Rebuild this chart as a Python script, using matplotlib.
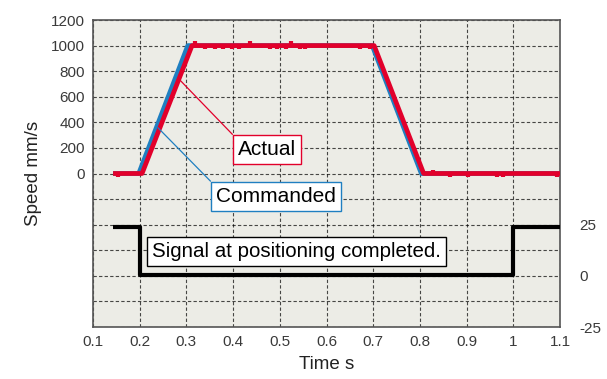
import matplotlib
matplotlib.use("Agg")
import matplotlib.pyplot as plt

plt.rcParams['font.family'] = ['Liberation Sans', 'DejaVu Sans']
plt.rcParams['axes.unicode_minus'] = False

# commanded speed profile (mm/s)
cmd_t = [0.143, 0.198, 0.303, 0.698, 0.803, 1.100]
cmd_v = [0, 0, 1000, 1000, 0, 0]

# actual speed profile (mm/s)
act_t = [0.143, 0.205, 0.312, 0.702, 0.808, 1.100]
act_v = [0, 0, 1000, 1000, 0, 0]
# small deviations seen on the actual trace
blip_t = [0.154, 0.318, 0.340, 0.361, 0.378, 0.398, 0.413, 0.436, 0.479, 0.494,
          0.513, 0.524, 0.543, 0.554, 0.672, 0.693,
          0.828, 0.864, 0.903, 0.965, 0.978, 1.094]
blip_base = [0, 1000, 1000, 1000, 1000, 1000, 1000, 1000, 1000, 1000,
             1000, 1000, 1000, 1000, 1000, 1000,
             0, 0, 0, 0, 0, 0]
blip_v = [-30, 1035, 970, 975, 970, 975, 970, 1035, 970, 975,
          970, 1035, 970, 975, 970, 975,
          25, -25, -25, -25, -25, -25]

# positioning completed signal (right axis)
sig_t = [0.143, 0.200, 0.200, 1.000, 1.000, 1.100]
sig_v = [24, 24, 0.5, 0.5, 24, 24]

xticks = [0.1, 0.2, 0.3, 0.4, 0.5, 0.6, 0.7, 0.8, 0.9, 1.0, 1.1]
xlabels = ['0.1', '0.2', '0.3', '0.4', '0.5', '0.6', '0.7', '0.8', '0.9', '1', '1.1']
yticks = list(range(-1200, 1201, 200))
rticks = [-25, 0, 25]

red = '#e2002b'
blue = '#1f7fc1'
txt = '#3a3a3a'

fig = plt.figure(figsize=(6.07, 3.79), dpi=100)
ax = fig.add_axes([0.1532, 0.1372, 0.7694, 0.81])
ax.set_facecolor('#ecece6')

ax.plot(cmd_t, cmd_v, color=blue, lw=3.4, solid_capstyle='butt', zorder=3)
ax.plot(act_t, act_v, color=red, lw=3.4, solid_capstyle='butt', zorder=4)
ax.vlines(blip_t, blip_base, blip_v, color=red, lw=3, zorder=4)

ax.set_xlim(0.1, 1.1)
ax.set_ylim(-1200, 1200)
ax.set_xticks(xticks)
ax.set_xticklabels(xlabels)
ax.set_yticks(yticks)
ax.set_yticklabels([str(v) if v >= 0 else '' for v in yticks])
ax.grid(True, color='black', ls=(0, (3, 2)), lw=0.8, alpha=0.7)
ax.set_axisbelow(True)
ax.tick_params(length=0, labelsize=11, colors=txt, pad=6)
for s in ax.spines.values():
    s.set_color('#555555')
    s.set_linewidth(1.2)

ax.set_ylabel('Speed mm/s', fontsize=13.5, color='#222222', labelpad=6)
ax.set_xlabel('Time s', fontsize=13.5, color='#222222', labelpad=5)

ax2 = ax.twinx()
ax2.plot(sig_t, sig_v, color='black', lw=3, solid_capstyle='butt', zorder=3)
ax2.set_ylim(-25, 125)
ax2.set_yticks(rticks)
ax2.tick_params(length=0, labelsize=11, colors=txt, pad=14)
for s in ax2.spines.values():
    s.set_visible(False)

ax.annotate('Actual', xy=(0.286, 731), xytext=(0.4726, 187),
            fontsize=15, color='black', ha='center', va='center', zorder=6,
            bbox=dict(boxstyle='square,pad=0.25', fc='white', ec=red, lw=1),
            arrowprops=dict(arrowstyle='-', color=red, lw=0.9, relpos=(0, 1),
                            shrinkA=0, shrinkB=0))
ax.annotate('Commanded', xy=(0.239, 358), xytext=(0.492, -179),
            fontsize=15, color='black', ha='center', va='center', zorder=6,
            bbox=dict(boxstyle='square,pad=0.25', fc='white', ec=blue, lw=1),
            arrowprops=dict(arrowstyle='-', color=blue, lw=0.9, relpos=(0, 1),
                            shrinkA=0, shrinkB=0))
ax.text(0.535, -607, 'Signal at positioning completed.', fontsize=14.8,
        color='black', ha='center', va='center', zorder=6,
        bbox=dict(boxstyle='square,pad=0.25', fc='white', ec='black', lw=1))

fig.savefig('out.png', dpi=100)
